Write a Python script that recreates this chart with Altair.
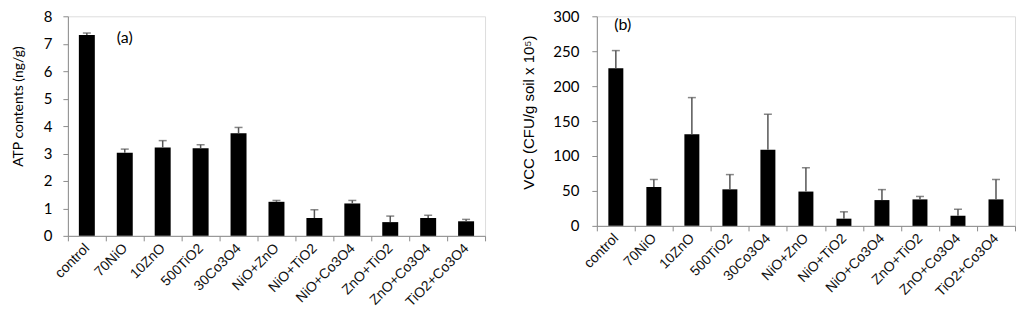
import altair as alt
import pandas as pd

cats = ["control", "70NiO", "10ZnO", "500TiO2", "30Co3O4", "NiO+ZnO",
        "NiO+TiO2", "NiO+Co3O4", "ZnO+TiO2", "ZnO+Co3O4", "TiO2+Co3O4"]
atp = [7.32, 3.03, 3.22, 3.19, 3.74, 1.24, 0.65, 1.18, 0.50, 0.65, 0.53]
atp_err = [0.07, 0.13, 0.25, 0.13, 0.21, 0.05, 0.30, 0.11, 0.22, 0.10, 0.07]
vcc = [225.7, 55.6, 131.3, 52.3, 108.9, 49.1, 10.3, 36.9, 37.9, 14.5, 37.9]
vcc_err = [25.2, 10.8, 52.3, 21.1, 50.9, 34.1, 9.8, 15.0, 4.2, 9.3, 28.5]
atp_ticks = [0, 1, 2, 3, 4, 5, 6, 7, 8]
vcc_ticks = [0, 50, 100, 150, 200, 250, 300]

GRAY = "#8c8c8c"
ERR = "#555555"


def panel(vals, errs, ticks, ytitle, w, h, barsize, label, label_cat, label_y,
          label_dx, tick_font, title_font, title_size, title_pad, label_pad,
          title_y):
    df = pd.DataFrame({"cat": cats, "val": vals,
                       "upper": [v + e for v, e in zip(vals, errs)]})
    xenc = alt.X("cat:N", sort=cats,
                 scale=alt.Scale(paddingInner=0, paddingOuter=0),
                 axis=alt.Axis(title=None, labelAngle=-45, labelAlign="right",
                               labelBaseline="middle", tickBand="extent",
                               labelFont="Liberation Sans", labelFontSize=14,
                               labelColor="#111111", labelPadding=5,
                               domainColor=GRAY, tickColor=GRAY, tickSize=5,
                               grid=False))
    yscale = alt.Scale(domain=[ticks[0], ticks[-1]], nice=False)
    yaxis = alt.Axis(title=ytitle, values=ticks, grid=False,
                     labelOverlap=False,
                     labelFont=tick_font, labelFontSize=15,
                     labelColor="#000000", labelPadding=label_pad,
                     titleFont=title_font, titleFontSize=title_size,
                     titleFontWeight="normal", titleColor="#000000",
                     titlePadding=title_pad, titleY=title_y,
                     domainColor=GRAY, tickColor=GRAY, tickSize=5)
    base = alt.Chart(df).encode(x=xenc)
    bars = base.mark_bar(size=barsize, color="black").encode(
        y=alt.Y("val:Q", scale=yscale, axis=yaxis))
    rule = base.mark_rule(color=ERR, strokeWidth=1.5).encode(
        y=alt.Y("val:Q", scale=yscale, axis=yaxis), y2="upper:Q")
    cap = base.mark_tick(color=ERR, size=8, thickness=1.5).encode(
        y=alt.Y("upper:Q", scale=yscale, axis=yaxis))
    lab_df = pd.DataFrame({"cat": [label_cat], "val": [label_y], "t": [label]})
    txt = alt.Chart(lab_df).mark_text(font="Lato", fontSize=16, dx=label_dx,
                                      color="black").encode(
        x=alt.X("cat:N", sort=cats),
        y=alt.Y("val:Q", scale=yscale, axis=yaxis), text="t:N")
    return alt.layer(bars, rule, cap, txt).properties(width=w, height=h)


a = panel(atp, atp_err, atp_ticks, "ATP contents (ng/g)", 418, 220, 16,
          "(a)", "70NiO", 7.2, 0, "Lato", "Lato", 14, 18, 11, 90)
b = panel(vcc, vcc_err, vcc_ticks, "VCC (CFU/g soil  x 10⁵)", 419, 210, 15,
          "(b)", "control", 287, 7, "Lato", "Liberation Sans", 15, 16, 13, 96)

chart = alt.hconcat(a, b, spacing=35).properties(
    padding={"left": 2, "top": 0, "right": 0, "bottom": 0}
).configure_view(stroke=None).configure(background="white")

chart.save("out.html", embed_options={"renderer": "svg", "actions": False})
